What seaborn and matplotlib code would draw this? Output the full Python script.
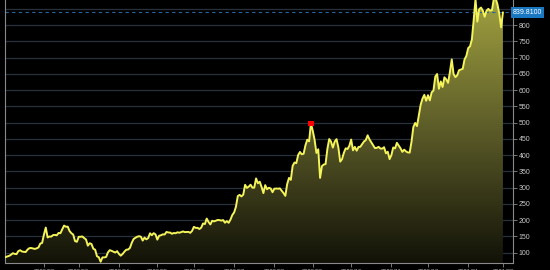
import numpy as np
import pandas as pd
import matplotlib
matplotlib.use("Agg")
import matplotlib.pyplot as plt
import seaborn as sns
from matplotlib.colors import LinearSegmentedColormap

# Daily closes (trading days), Jan 2020 .. Feb 2021
jan20 = [86.05, 88.60, 90.31, 93.81, 98.43, 96.27, 95.63, 104.97, 107.58, 103.70, 102.70,
         102.10, 109.44, 113.91, 114.44, 112.96, 111.60, 113.38, 116.20, 128.16, 130.11]
feb20 = [156.00, 177.41, 146.94, 149.79, 149.61, 154.26, 154.88, 153.46, 160.80, 160.01,
         171.68, 183.48, 179.88, 180.20, 166.76, 159.98, 155.76, 135.80, 133.60]
mar20 = [148.72, 149.10, 149.90, 144.91, 140.70, 121.60, 129.07, 126.85, 112.11, 109.32, 89.01,
         86.04, 72.24, 85.53, 85.51, 86.86, 101.00, 107.85, 105.63, 102.87, 100.43, 104.80]
apr20 = [96.31, 90.89, 96.00, 103.25, 109.09, 109.77, 114.60, 130.19, 141.98, 145.97, 149.04,
         150.78, 149.27, 137.34, 146.42, 141.13, 145.03, 159.75, 153.82, 160.10, 156.38]
may20 = [140.26, 152.24, 153.64, 156.52, 156.01, 163.88, 162.26, 161.88, 158.19, 160.67,
         159.83, 162.73, 161.60, 163.11, 165.52, 163.38, 163.77, 164.05, 161.16, 167.00]
jun20 = [179.62, 176.31, 176.59, 172.88, 177.13, 189.98, 188.13, 205.01, 194.57, 187.06, 198.18,
         196.43, 198.36, 200.79, 200.18, 198.86, 200.36, 192.17, 197.20, 191.95, 201.87, 215.96]
jul20 = [223.93, 241.73, 274.32, 277.97, 273.18, 278.86, 308.93, 299.41, 303.36, 309.20, 300.13,
         300.17, 328.60, 313.67, 318.47, 302.61, 283.40, 307.92, 295.30, 299.82, 297.50, 286.15]
aug20 = [297.00, 297.40, 297.00, 297.92, 290.54, 283.71, 274.88, 310.95, 330.14, 324.20, 367.13,
         377.42, 375.71, 400.37, 410.00, 402.84, 404.67, 430.63, 447.75, 442.68, 498.32]
sep20 = [475.05, 447.37, 407.00, 418.32, 330.21, 366.28, 371.34, 372.72, 419.62, 449.76, 441.76,
         423.43, 442.15, 449.39, 424.23, 380.36, 387.79, 407.34, 421.20, 419.07, 429.01]
oct20 = [448.16, 415.09, 425.68, 413.98, 425.30, 425.92, 434.00, 442.30, 446.65, 461.30, 448.88,
         439.67, 430.83, 421.94, 422.64, 425.79, 420.63, 420.28, 424.68, 406.02, 410.83, 388.04]
nov20 = [400.51, 423.90, 420.98, 438.09, 429.95, 421.26, 410.36, 417.13, 411.76, 408.50,
         408.09, 441.61, 486.64, 499.27, 489.61, 521.85, 555.38, 574.00, 585.76, 567.60]
dec20 = [584.76, 568.82, 593.38, 599.04, 641.76, 649.88, 604.48, 627.07, 609.99, 639.83, 633.25,
         622.77, 655.90, 695.00, 649.86, 640.34, 645.98, 661.77, 663.69, 665.99, 694.78, 705.67]
jan21 = [729.77, 735.11, 755.98, 816.04, 880.02, 811.19, 849.44, 854.41, 845.00, 826.16,
         844.55, 850.45, 844.99, 846.64, 880.80, 883.09, 864.16, 835.43, 793.53]
feb21 = [839.81]

months = [jan20, feb20, mar20, apr20, may20, jun20, jul20, aug20, sep20, oct20, nov20, dec20, jan21, feb21]
month_labels = ["2020/01", "2020/02", "2020/03", "2020/04", "2020/05", "2020/06", "2020/07",
                "2020/08", "2020/09", "2020/10", "2020/11", "2020/12", "2021/01", "2021/02"]
y_ticks = [100, 150, 200, 250, 300, 350, 400, 450, 500, 550, 600, 650, 700, 750, 800, 850]
last_price = 839.81

closes = [v for m in months for v in m]
df = pd.DataFrame({"idx": np.arange(len(closes)), "close": closes})
starts = np.cumsum([0] + [len(m) for m in months[:-1]])

sns.set_theme(style="dark")
plt.rcParams["font.family"] = ["Liberation Sans", "DejaVu Sans"]

fig = plt.figure(figsize=(5.5, 2.7), dpi=100, facecolor="black")
ax = fig.add_axes([5 / 550, 7 / 270, 508 / 550, 263 / 270])
ax.set_facecolor("black")

xmin, xmax = -0.3, 277.5
ymin, ymax = 68.3, 877.7

# gradient fill under curve
poly = ax.fill_between(df["idx"], df["close"], ymin, facecolor="none", edgecolor="none")
grad = np.linspace(1, 0, 256).reshape(-1, 1)
cmap = LinearSegmentedColormap.from_list("g", ["#121208", "#5a5a28", "#a0a040"])
im = ax.imshow(grad, cmap=cmap, extent=[xmin, xmax, ymin, ymax], aspect="auto",
               origin="upper", zorder=1, interpolation="bilinear")
im.set_clip_path(poly.get_paths()[0], transform=ax.transData)

for yt in y_ticks:
    pass
ax.set_yticks(y_ticks)
ax.yaxis.grid(True, color="#27303b", linewidth=0.9)
ax.xaxis.grid(False)
ax.set_axisbelow(True)

ax.axhline(last_price, color="#2566a0", linewidth=0.8, linestyle=(0, (3, 3)), zorder=2)

sns.lineplot(data=df, x="idx", y="close", ax=ax, color="#f4f45a", linewidth=1.4, zorder=4)

peak_df = df[df["idx"] <= 200]
peak = peak_df.loc[[peak_df["close"].idxmax()]]
sns.scatterplot(data=peak, x="idx", y="close", ax=ax, color="#ff0000", marker="s", s=14,
                edgecolor="none", zorder=5)

ax.set_xlim(xmin, xmax)
ax.set_ylim(ymin, ymax)
ax.set_xticks(starts[1:])
ax.set_xticklabels(month_labels[1:])
ax.set_xlabel("")
ax.set_ylabel("")
ax.yaxis.tick_right()

for s in ["left", "bottom", "right"]:
    ax.spines[s].set_visible(True)
    ax.spines[s].set_color("#8a8a8a")
    ax.spines[s].set_linewidth(0.8)
ax.spines["top"].set_visible(False)

ax.tick_params(axis="y", which="both", direction="out", length=3, width=0.6, color="#8a8a8a",
               labelcolor="#c8c8c8", labelsize=5, pad=1, right=True, left=False)
ax.tick_params(axis="x", which="both", direction="out", length=3, width=0.6, color="#8a8a8a",
               labelcolor="#b0b0b0", labelsize=4.2, pad=1.5, bottom=True)

ax.text(1.0, last_price, f"{last_price:.4f}", transform=ax.get_yaxis_transform(),
        ha="left", va="center", fontsize=5, color="white", zorder=10, clip_on=False,
        bbox=dict(boxstyle="square,pad=0.25", facecolor="#1a78c2", edgecolor="none"))

fig.savefig("out.png", dpi=100, facecolor="black")
